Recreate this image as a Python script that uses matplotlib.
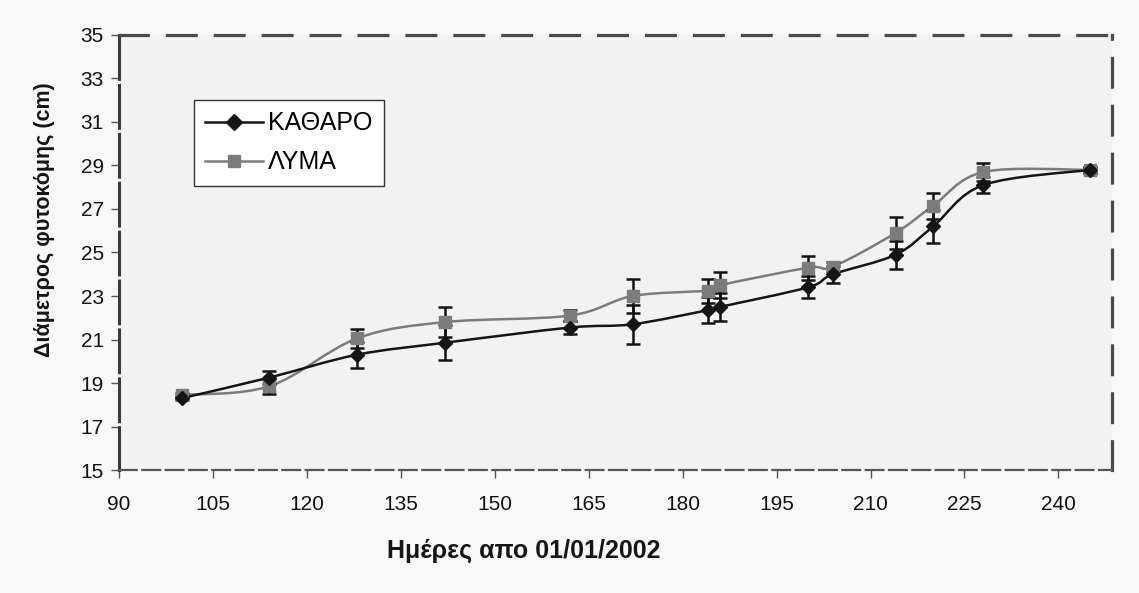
import numpy as np
import matplotlib.pyplot as plt
from matplotlib.path import Path
from matplotlib.patches import PathPatch
from matplotlib.lines import Line2D

plt.rcParams['font.family'] = ['Liberation Sans', 'DejaVu Sans']

# days since 01/01/2002
days = [100, 114, 128, 142, 162, 172, 184, 186, 200, 204, 214, 220, 228, 245]
katharo = [18.3, 19.25, 20.3, 20.85, 21.55, 21.7, 22.35, 22.5, 23.4, 24.0, 24.9, 26.2, 28.1, 28.8]
katharo_err = [0.1, 0.3, 0.6, 0.8, 0.3, 0.9, 0.6, 0.65, 0.5, 0.4, 0.65, 0.75, 0.35, 0.15]
lyma = [18.45, 18.85, 21.05, 21.8, 22.1, 23.0, 23.25, 23.5, 24.3, 24.35, 25.9, 27.15, 28.7, 28.8]
lyma_err = [0.1, 0.35, 0.45, 0.7, 0.25, 0.8, 0.55, 0.6, 0.55, 0.2, 0.75, 0.6, 0.4, 0.15]

labels = ['ΚΑΘΑΡΟ', 'ΛΥΜΑ']
colors = ['#151515', '#7c7c7c']
markers = ['D', 's']


def smooth_path(x, y):
    # Excel-like smoothed line (bezier through the points)
    x = np.asarray(x, float)
    y = np.asarray(y, float)
    verts = [(x[0], y[0])]
    codes = [Path.MOVETO]
    n = len(x)
    for i in range(n - 1):
        i0 = max(i - 1, 0)
        i3 = min(i + 2, n - 1)
        c1 = (x[i] + (x[i + 1] - x[i0]) / 6, y[i] + (y[i + 1] - y[i0]) / 6)
        c2 = (x[i + 1] - (x[i3] - x[i]) / 6, y[i + 1] - (y[i3] - y[i]) / 6)
        verts += [c1, c2, (x[i + 1], y[i + 1])]
        codes += [Path.CURVE4] * 3
    return Path(verts, codes)


fig = plt.figure(figsize=(11.39, 5.93), dpi=100, facecolor='#f8f8f8')
ax = fig.add_axes([0.1045, 0.2074, 0.8715, 0.7336])
ax.set_facecolor('#f2f2f2')

for vals, errs, col, mk, ms in [(lyma, lyma_err, colors[1], markers[1], 8.5),
                                (katharo, katharo_err, colors[0], markers[0], 7.5)]:
    ax.add_patch(PathPatch(smooth_path(days, vals), fill=False, edgecolor=col,
                           lw=1.8, zorder=2))
    ax.errorbar(days, vals, yerr=errs, fmt='none', ecolor='#111111', elinewidth=1.8,
                capsize=5, capthick=1.8, zorder=3)
    ax.plot(days, vals, linestyle='none', marker=mk, color=col, markersize=ms, zorder=4)

ax.set_xlim(90, 248.5)
ax.set_ylim(15, 35)
ax.set_xticks(np.arange(90, 241, 15))
ax.set_yticks(np.arange(15, 36, 2))
ax.tick_params(axis='both', direction='out', length=6, width=1, color='#555555',
               labelsize=15, labelcolor='#111111')
ax.tick_params(axis='x', pad=12)
ax.tick_params(axis='y', pad=5)

for side in ['top', 'right']:
    ax.spines[side].set_linestyle((0, (9, 6)))
    ax.spines[side].set_linewidth(2.3)
    ax.spines[side].set_color('#4a4a4a')
ax.spines['left'].set_linestyle((0, (14, 2)))
ax.spines['left'].set_linewidth(2.2)
ax.spines['left'].set_color('#3a3a3a')
ax.spines['bottom'].set_linestyle((0, (8, 2.5)))
ax.spines['bottom'].set_linewidth(1.6)
ax.spines['bottom'].set_color('#555555')

fig.text(524 / 1139, 1 - 551 / 593, 'Ημέρες απο 01/01/2002', fontsize=18,
         fontweight='bold', ha='center', va='center', color='#151515')
fig.text(45 / 1139, 1 - 220 / 593, 'Διάμετρος φυτοκόμης (cm)', fontsize=15.5,
         fontweight='bold', rotation=90, ha='center', va='center', color='#151515')

handles = [Line2D([], [], color=colors[0], marker=markers[0], markersize=8, lw=1.8),
           Line2D([], [], color=colors[1], marker=markers[1], markersize=8, lw=1.8)]
leg = fig.legend(handles, labels, loc='upper left', bbox_to_anchor=(194 / 1139, 1 - 100 / 593),
                 fontsize=18, frameon=True, fancybox=False, edgecolor='#333333',
                 framealpha=1, facecolor='white', handlelength=2.3, handletextpad=0.2,
                 labelspacing=0.6, borderpad=0.45, borderaxespad=0)
leg.get_frame().set_linewidth(1.0)

fig.savefig('out.png', dpi=100, facecolor=fig.get_facecolor())
